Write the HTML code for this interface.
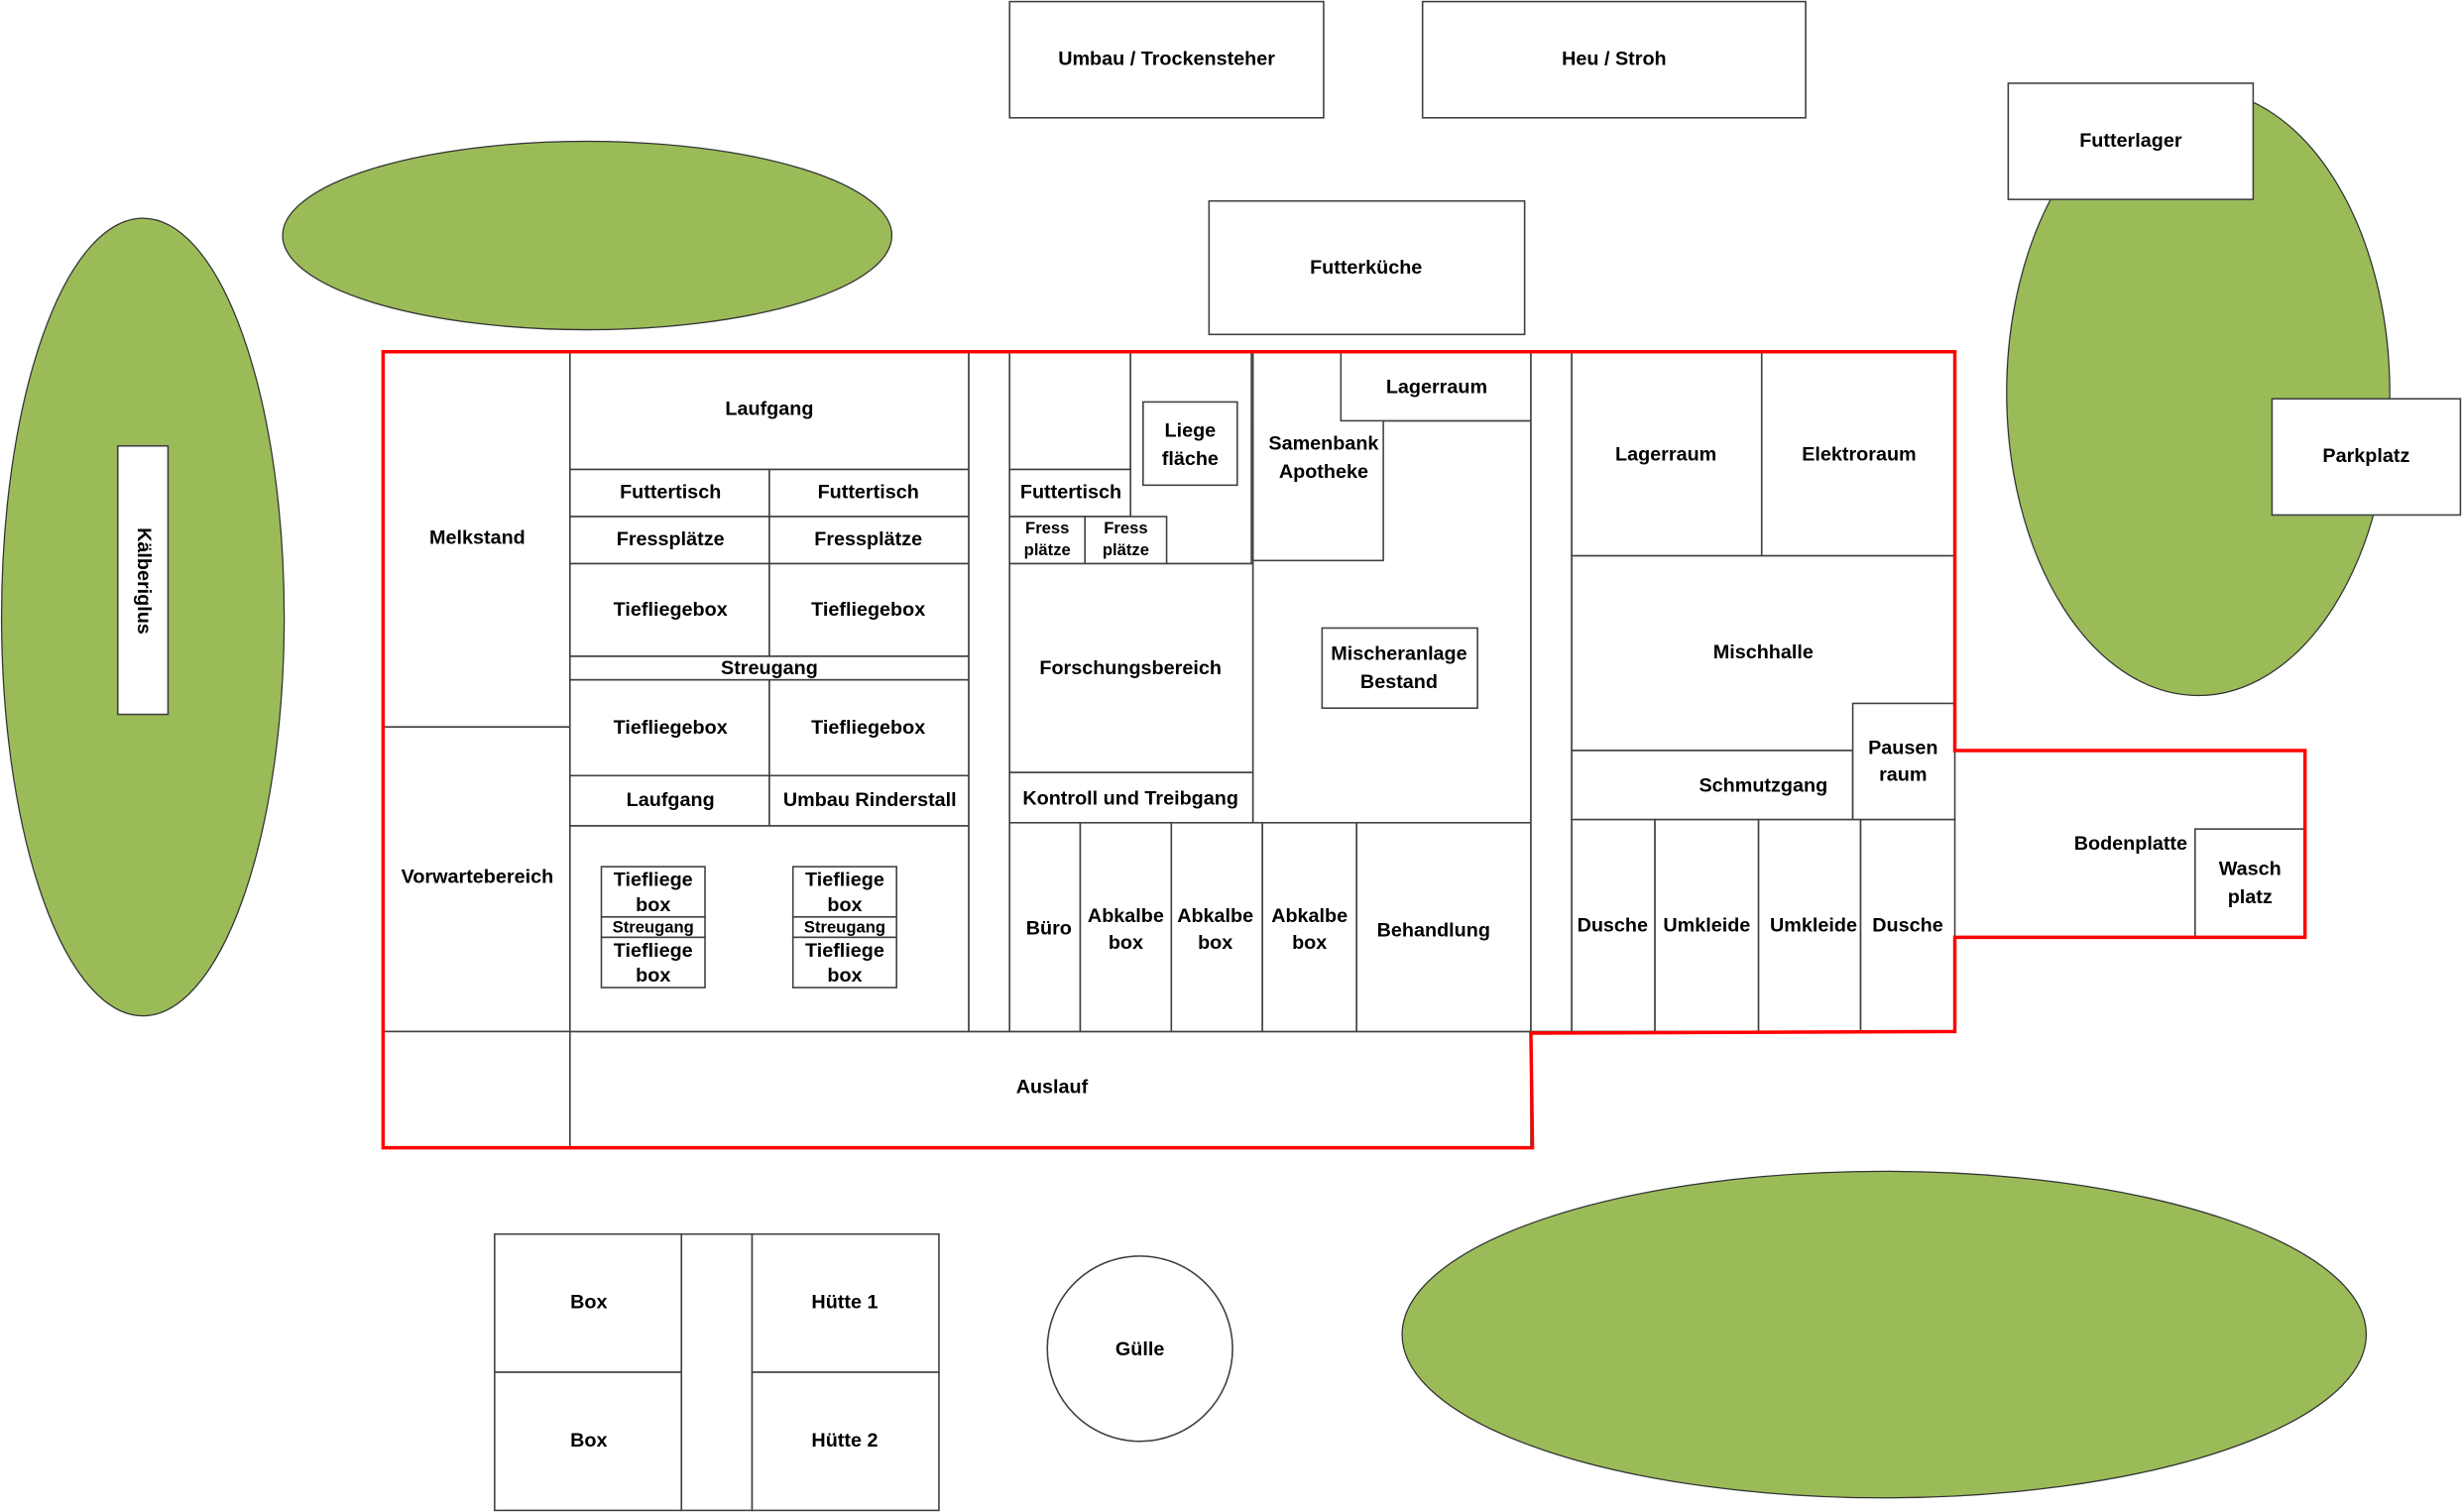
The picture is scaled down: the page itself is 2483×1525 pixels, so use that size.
<!DOCTYPE html>
<html><head><meta charset="utf-8"><style>
html,body{margin:0;padding:0;background:#fff}
svg{display:block}
text{font-family:"Liberation Sans",sans-serif;font-weight:bold;font-size:12.5px;fill:#000;text-anchor:middle;dominant-baseline:middle}
.s{font-size:10.5px}
rect{fill:#fff;stroke:#404040;stroke-width:1}
</style></head><body>
<svg width="2483" height="1525" viewBox="0 0 1568 963" xmlns="http://www.w3.org/2000/svg">
<g fill="#9BBB59" stroke="#333" stroke-width="0.8">
<ellipse cx="374" cy="150" rx="194" ry="60"/>
<ellipse cx="91" cy="393" rx="90" ry="254"/>
<ellipse cx="1400" cy="250" rx="122" ry="193"/>
<ellipse cx="1200" cy="850" rx="307" ry="104"/>
</g>
<rect x="75" y="284" width="32" height="171"/>
<text transform="translate(91,370) rotate(90)">Kälberiglus</text>
<rect x="643" y="1" width="200" height="74"/><text x="743" y="38">Umbau / Trockensteher</text>
<rect x="906" y="1" width="244" height="74"/><text x="1028" y="38">Heu / Stroh</text>
<rect x="770" y="128" width="201" height="85"/><text x="870" y="171">Futterküche</text>
<rect x="1279" y="53" width="156" height="74"/><text x="1357" y="90">Futterlager</text>
<rect x="1447" y="254" width="120" height="74"/><text x="1507" y="291">Parkplatz</text>

<!-- left -->
<rect x="244" y="224" width="119" height="239"/><text x="304" y="343">Melkstand</text>
<rect x="244" y="463" width="119" height="194"/><text x="304" y="559">Vorwartebereich</text>
<rect x="244" y="657" width="119" height="74"/>
<rect x="363" y="657" width="612" height="74"/><text x="670" y="693">Auslauf</text>
<rect x="363" y="224" width="254" height="75"/><text x="490" y="261">Laufgang</text>
<rect x="363" y="299" width="127" height="30"/><text x="427" y="314">Futtertisch</text>
<rect x="490" y="299" width="127" height="30"/><text x="553" y="314">Futtertisch</text>
<rect x="363" y="329" width="127" height="30"/><text x="427" y="344">Fressplätze</text>
<rect x="490" y="329" width="127" height="30"/><text x="553" y="344">Fressplätze</text>
<rect x="363" y="359" width="127" height="59"/><text x="427" y="389">Tiefliegebox</text>
<rect x="490" y="359" width="127" height="59"/><text x="553" y="389">Tiefliegebox</text>
<rect x="363" y="418" width="254" height="15"/><text x="490" y="426">Streugang</text>
<rect x="363" y="433" width="127" height="61"/><text x="427" y="464">Tiefliegebox</text>
<rect x="490" y="433" width="127" height="61"/><text x="553" y="464">Tiefliegebox</text>
<rect x="363" y="494" width="127" height="32"/><text x="427" y="510">Laufgang</text>
<rect x="490" y="494" width="127" height="32"/><text x="554" y="510">Umbau Rinderstall</text>
<rect x="363" y="526" width="254" height="131"/>
<g>
<rect x="383" y="552" width="66" height="32"/><text x="416" y="561">Tiefliege</text><text x="416" y="577">box</text>
<rect x="383" y="584" width="66" height="13"/><text class="s" x="416" y="591">Streugang</text>
<rect x="383" y="597" width="66" height="32"/><text x="416" y="606">Tiefliege</text><text x="416" y="622">box</text>
<rect x="505" y="552" width="66" height="32"/><text x="538" y="561">Tiefliege</text><text x="538" y="577">box</text>
<rect x="505" y="584" width="66" height="13"/><text class="s" x="538" y="591">Streugang</text>
<rect x="505" y="597" width="66" height="32"/><text x="538" y="606">Tiefliege</text><text x="538" y="622">box</text>
</g>
<rect x="617" y="224" width="26" height="433"/>

<!-- middle -->
<rect x="643" y="224" width="77" height="75"/>
<rect x="720" y="224" width="77" height="135"/>
<rect x="728" y="256" width="60" height="53"/><text x="758" y="275">Liege</text><text x="758" y="293">fläche</text>
<rect x="643" y="299" width="77" height="30"/><text x="682" y="314">Futtertisch</text>
<rect x="643" y="329" width="48" height="30"/><text class="s" x="667" y="337">Fress</text><text class="s" x="667" y="351">plätze</text>
<rect x="691" y="329" width="52" height="30"/><text class="s" x="717" y="337">Fress</text><text class="s" x="717" y="351">plätze</text>
<rect x="643" y="359" width="155" height="133"/><text x="720" y="426">Forschungsbereich</text>
<rect x="643" y="492" width="155" height="32"/><text x="720" y="509">Kontroll und Treibgang</text>
<rect x="798" y="268" width="177" height="256"/>
<rect x="798" y="224" width="83" height="133"/><text x="843" y="283">Samenbank</text><text x="843" y="301">Apotheke</text>
<rect x="854" y="224" width="121" height="44"/><text x="915" y="247">Lagerraum</text>
<rect x="842" y="400" width="99" height="51"/><text x="891" y="417">Mischeranlage</text><text x="891" y="435">Bestand</text>
<rect x="643" y="524" width="45" height="133"/><text x="668" y="592">Büro</text>
<rect x="688" y="524" width="58" height="133"/><text x="717" y="584">Abkalbe</text><text x="717" y="601">box</text>
<rect x="746" y="524" width="58" height="133"/><text x="774" y="584">Abkalbe</text><text x="774" y="601">box</text>
<rect x="804" y="524" width="60" height="133"/><text x="834" y="584">Abkalbe</text><text x="834" y="601">box</text>
<rect x="864" y="524" width="111" height="133"/><text x="913" y="593">Behandlung</text>
<rect x="975" y="224" width="26" height="433"/>

<!-- right -->
<rect x="1001" y="224" width="121" height="130"/><text x="1061" y="290">Lagerraum</text>
<rect x="1122" y="224" width="123" height="130"/><text x="1184" y="290">Elektroraum</text>
<rect x="1001" y="354" width="244" height="124"/><text x="1123" y="416">Mischhalle</text>
<rect x="1001" y="478" width="179" height="44"/><text x="1123" y="501">Schmutzgang</text>
<rect x="1180" y="448" width="65" height="74"/><text x="1212" y="477">Pausen</text><text x="1212" y="494">raum</text>
<rect x="1001" y="522" width="53" height="135"/><text x="1027" y="590">Dusche</text>
<rect x="1054" y="522" width="66" height="135"/><text x="1087" y="590">Umkleide</text>
<rect x="1120" y="522" width="65" height="135"/><text x="1155" y="590">Umkleide</text>
<rect x="1185" y="522" width="60" height="135"/><text x="1215" y="590">Dusche</text>
<text x="1357" y="538">Bodenplatte</text>
<rect x="1398" y="528" width="70" height="69"/><text x="1433" y="554">Wasch</text><text x="1433" y="572">platz</text>

<polygon points="244,224 1245,224 1245,478 1468,478 1468,597 1245,597 1245,657 975,658 976,731 244,731" fill="none" stroke="#ff0000" stroke-width="2.2"/>

<!-- bottom -->
<rect x="315" y="786" width="119" height="88"/><text x="375" y="830">Box</text>
<rect x="315" y="874" width="119" height="88"/><text x="375" y="918">Box</text>
<rect x="434" y="786" width="45" height="176"/>
<rect x="479" y="786" width="119" height="88"/><text x="538" y="830">Hütte 1</text>
<rect x="479" y="874" width="119" height="88"/><text x="538" y="918">Hütte 2</text>
<circle cx="726" cy="859" r="59" fill="#fff" stroke="#404040"/><text x="726" y="860">Gülle</text>
</svg>
</body></html>
